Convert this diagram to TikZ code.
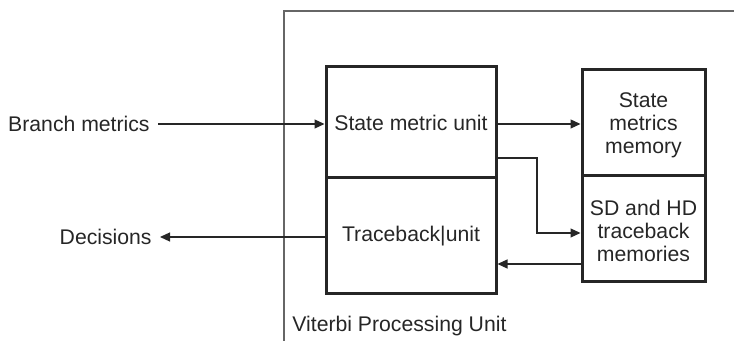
\documentclass[tikz,border=0pt]{standalone}
\usepackage{fontspec}
\setmainfont{Liberation Sans}
\usetikzlibrary{arrows.meta,calc}
\begin{document}
\begin{tikzpicture}[x=0.5pt,y=-0.5pt,
  every node/.style={font=\fontsize{10.6pt}{11.6pt}\selectfont, text=black!85},
  blk/.style={draw=black!85, line width=1.5pt, inner sep=0pt, align=center},
  lbl/.style={inner xsep=4pt, inner ysep=0pt},
  conn/.style={draw=black!85, line width=0.6pt, -{Triangle[length=5pt,width=4.5pt]}},
  frame/.style={draw=black!60, line width=0.8pt}]
\useasboundingbox (0,0) rectangle (734,341);
% outer frame
\coordinate (ftr) at (734,11);
\coordinate (ftl) at (284,11);
\coordinate (fbl) at (284,341);
\draw[frame] (ftr) -- (ftl) -- (fbl);
\node[anchor=west, inner sep=0pt] (vpu) at (292,326) {Viterbi Processing Unit};
% blocks
\node[blk, minimum width=85pt, minimum height=55.5pt] (smu) at (411,122.5) {State metric unit};
\node[blk, minimum width=85pt, minimum height=58pt] (tu) at (411,236) {Traceback|unit};
\node[blk, minimum width=61.5pt, minimum height=53pt] (smm) at (643.5,123) {\rule{0pt}{10pt}State\\metrics\\memory};
\node[blk, minimum width=61.5pt, minimum height=53pt] (sdhd) at (643.5,229) {\rule{0pt}{9.5pt}SD and HD\\traceback\\memories};
% outside labels
\node[lbl, anchor=east] (bm) at (158,124) {Branch metrics};
\node[lbl, anchor=east] (dec) at (160,237) {Decisions};
% connectors
\draw[conn] (bm.east) -- (bm.east -| smu.west);
\draw[conn] (dec.east -| tu.west) -- (dec.east);
\draw[conn] (smu.east |- 0,124) -- (smm.west |- 0,124);
\coordinate (c1) at (537,158);
\coordinate (c2) at (537,233);
\draw[conn] (smu.east |- c1) -- (c1) -- (c2) -- (sdhd.west |- c2);
\coordinate (c3) at (582,264);
\draw[conn] (sdhd.west |- c3) -- (tu.east |- c3);
\end{tikzpicture}
\end{document}
